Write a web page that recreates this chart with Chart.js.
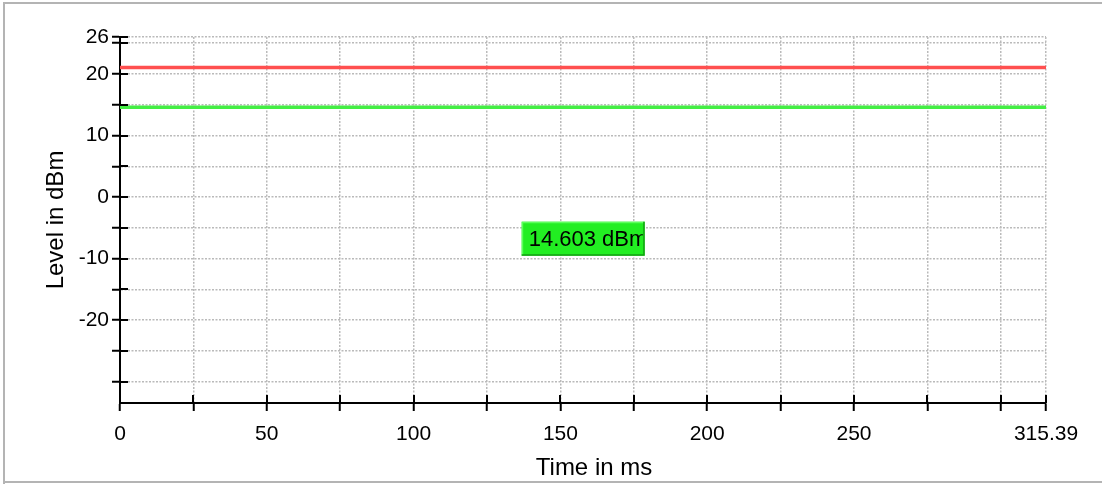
<!DOCTYPE html>
<html>
<head>
<meta charset="utf-8">
<script src="https://cdn.jsdelivr.net/npm/chart.js@4"></script>
<style>
html,body{margin:0;padding:0;background:#fff;}
#wrap{position:relative;width:1102px;height:484px;}
</style>
</head>
<body>
<div id="wrap"><canvas id="c" width="1102" height="484"></canvas></div>
<script>
// ---- data ----
const timeRange = [0, 315.39];            // ms, start and end of trace
const refLevel = [21.05, 21.05];          // red reference line (dBm)
const measLevel = [14.603, 14.603];       // green measured level (dBm)
const markerText = '14.603 dBm';
const xTicks = [0, 25, 50, 75, 100, 125, 150, 175, 200, 225, 250, 275, 300, 315.39];
const xLabels = [0, 50, 100, 150, 200, 250, 315.39];
const yTicks = [26, 25, 20, 15, 10, 5, 0, -5, -10, -15, -20, -25, -30];
const yLabels = [26, 20, 10, 0, -10, -20];
const yMin = -33.45, yMax = 26;

const FONT = '"Liberation Sans", Arial, sans-serif';

const crossTicks = {
  id: 'crossTicks',
  beforeDraw(chart) {
    const ctx = chart.ctx;
    ctx.save();
    ctx.strokeStyle = '#b4b4b4';
    ctx.lineWidth = 2;
    ctx.beginPath();
    ctx.moveTo(4, 1200); ctx.lineTo(4, 3); ctx.lineTo(1200, 3);
    ctx.moveTo(4, 482); ctx.lineTo(1200, 482);
    ctx.stroke();
    ctx.restore();
  },
  afterDraw(chart) {
    const ctx = chart.ctx;
    const xs = chart.scales.x, ys = chart.scales.y;
    const a = chart.chartArea;
    ctx.save();
    ctx.strokeStyle = '#000';
    ctx.lineWidth = 2;
    ctx.beginPath();
    xTicks.forEach(v => {
      const px = Math.round(xs.getPixelForValue(v));
      ctx.moveTo(px, a.bottom); ctx.lineTo(px, a.bottom - 8);
    });
    yTicks.forEach(v => {
      const py = Math.round(ys.getPixelForValue(v));
      ctx.moveTo(a.left, py); ctx.lineTo(a.left + 8, py);
    });
    ctx.stroke();
    // x axis title, centred slightly right of the plot centre as in the original
    ctx.fillStyle = '#000';
    ctx.font = '24px ' + FONT;
    ctx.textAlign = 'center';
    ctx.textBaseline = 'middle';
    ctx.fillText('Time in ms', (a.left + a.right) / 2 + 11, 468);
    ctx.textAlign = 'left';
    // marker label box
    const bx = a.left + 0.4338 * (a.right - a.left);
    const by = a.top + 0.5047 * (a.bottom - a.top);
    const bw = 123, bh = 34;
    ctx.fillStyle = '#22ee22';
    ctx.fillRect(bx, by, bw, bh);
    ctx.strokeStyle = '#5cff5c';
    ctx.lineWidth = 1.5;
    ctx.beginPath();
    ctx.moveTo(bx + 0.75, by + bh); ctx.lineTo(bx + 0.75, by + 0.75); ctx.lineTo(bx + bw, by + 0.75);
    ctx.stroke();
    ctx.strokeStyle = '#14a014';
    ctx.beginPath();
    ctx.moveTo(bx + bw - 0.75, by); ctx.lineTo(bx + bw - 0.75, by + bh - 0.75); ctx.lineTo(bx, by + bh - 0.75);
    ctx.stroke();
    ctx.beginPath();
    ctx.rect(bx + 2, by + 2, bw - 4, bh - 4);
    ctx.clip();
    ctx.fillStyle = '#000';
    ctx.font = '22px ' + FONT;
    ctx.textBaseline = 'middle';
    ctx.fillText(markerText, bx + 7, by + bh / 2 + 1);
    ctx.restore();
  }
};

new Chart(document.getElementById('c'), {
  type: 'line',
  data: {
    datasets: [
      {
        data: timeRange.map((t, i) => ({x: t, y: refLevel[i]})),
        borderColor: '#ff5050', borderWidth: 3.5, pointRadius: 0, clip: false
      },
      {
        data: timeRange.map((t, i) => ({x: t, y: measLevel[i]})),
        borderColor: '#44ee44', borderWidth: 3.5, pointRadius: 0, clip: false
      }
    ]
  },
  options: {
    responsive: false,
    animation: false,
    devicePixelRatio: 1,
    layout: {padding: {top: 37, right: 56, left: 0, bottom: 0}},
    plugins: {legend: {display: false}, tooltip: {enabled: false}},
    scales: {
      x: {
        type: 'linear', min: timeRange[0], max: timeRange[1],
        afterBuildTicks(s) { s.ticks = xTicks.map(v => ({value: v})); },
        afterFit(s) { s.height = 81; },
        ticks: {
          autoSkip: false, maxRotation: 0, padding: 11, color: '#000',
          font: {family: FONT, size: 21},
          callback: v => xLabels.includes(v) ? String(v) : ''
        },
        grid: {
          color: '#bababa', lineWidth: 1.5,
          tickLength: 8, tickColor: '#000', tickWidth: 2, tickBorderDash: []
        },
        border: {display: true, color: '#000', width: 2, dash: [2, 1.5]},
        title: {display: false}
      },
      y: {
        type: 'linear', min: yMin, max: yMax,
        afterBuildTicks(s) { s.ticks = yTicks.map(v => ({value: v})); },
        afterFit(s) { s.width = 120; },
        ticks: {
          autoSkip: false, padding: 3, color: '#000',
          font: {family: FONT, size: 21},
          callback: v => yLabels.includes(v) ? String(v) : ''
        },
        grid: {
          color: '#bababa', lineWidth: 1.5,
          tickLength: 8, tickColor: '#000', tickWidth: 2, tickBorderDash: []
        },
        border: {display: true, color: '#000', width: 2, dash: [2, 1.5]},
        title: {display: true, text: 'Level in dBm', color: '#000',
                font: {family: FONT, size: 24}, padding: {top: 42, bottom: 0}}
      }
    }
  },
  plugins: [crossTicks]
});
</script>
</body>
</html>
